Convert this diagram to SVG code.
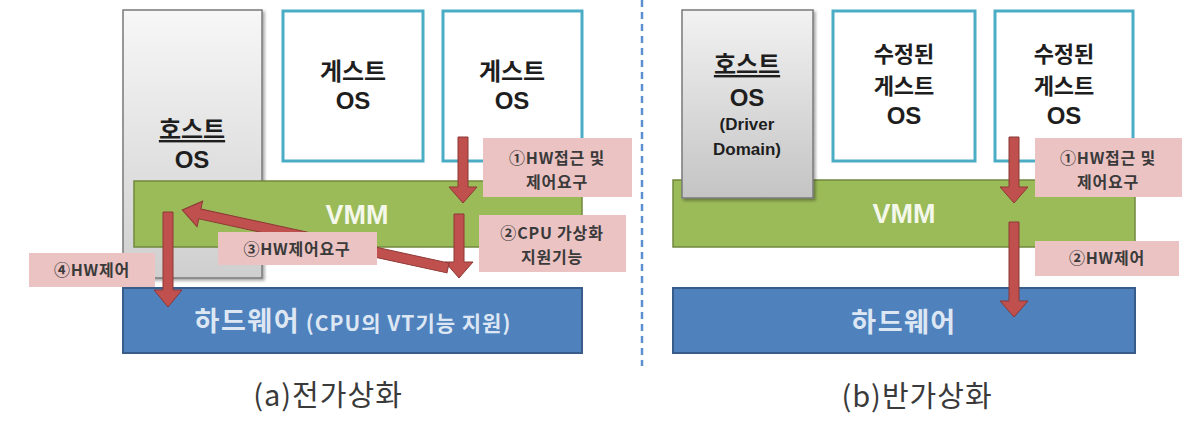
<svg xmlns="http://www.w3.org/2000/svg" width="1198" height="426" viewBox="0 0 1198 426">
<defs>
  <linearGradient id="hostGrad" x1="0" y1="0" x2="0" y2="1">
    <stop offset="0" stop-color="#f7f7f7"/>
    <stop offset="1" stop-color="#cfcfcf"/>
  </linearGradient>
  <linearGradient id="hostGrad2" x1="0" y1="0" x2="0" y2="1">
    <stop offset="0" stop-color="#f2f2f2"/>
    <stop offset="1" stop-color="#c4c4c4"/>
  </linearGradient>
  <filter id="shadow" x="-10%" y="-10%" width="130%" height="130%">
    <feDropShadow dx="2" dy="2" stdDeviation="1.5" flood-color="#000" flood-opacity="0.35"/>
  </filter>
</defs>
<style>
  .host { stroke: #7a7a7a; stroke-width: 1.5; }
  .guest { fill: #ffffff; stroke: #4bacc6; stroke-width: 3; }
  .vmm { fill: #9bbb59; stroke: #71893f; stroke-width: 1.5; }
  .hw { fill: #4f81bd; stroke: #385d8a; stroke-width: 2; }
  .t { font-family: "Noto Sans CJK KR", "Noto Sans", sans-serif; font-weight: bold; text-anchor: middle; fill: #1e1e1e; }
  .os { font-family: "Liberation Sans", "Noto Sans", sans-serif; font-weight: bold; text-anchor: middle; fill: #1e1e1e; }
  .big { font-size: 24px; }
  .k22 { font-size: 22px; }
  .mid { font-size: 17px; }
  .vt { font-family: "Liberation Sans", sans-serif; font-size: 27px; fill: #f4f8ea; }
  .hwt { fill: #dde7f4; }
  .lbl { fill: #ebc3c3; }
  .lt { font-family: "Noto Sans CJK KR", "Noto Sans", sans-serif; font-weight: bold; font-size: 16px; letter-spacing: 0.8px; text-anchor: middle; fill: #3a3a3a; }
  .cap { font-family: "Noto Sans CJK KR", "Noto Sans", sans-serif; font-weight: normal; font-size: 29px; letter-spacing: 1px; text-anchor: middle; fill: #3a3a3a; }
  .arrow { fill: #c0504d; stroke: #8c3836; stroke-width: 1; }
  .div { stroke: #5b8fd0; stroke-width: 2.5; stroke-dasharray: 7 5; fill: none; }
</style>

<rect x="0" y="0" width="1198" height="426" fill="#ffffff"/>

<!-- ===== Left panel (a) ===== -->
<g id="a-host">
  <rect class="host" x="123" y="10" width="139" height="268" fill="url(#hostGrad)" filter="url(#shadow)"/>
  <text class="t big" x="192" y="138" text-decoration="underline">호스트</text>
  <text class="os big" x="192" y="168">OS</text>
</g>
<g id="a-guest1">
  <rect class="guest" x="283" y="11" width="140" height="150"/>
  <text class="t big" x="353" y="80">게스트</text>
  <text class="os big" x="353" y="109">OS</text>
</g>
<g id="a-guest2">
  <rect class="guest" x="443" y="11" width="139" height="150"/>
  <text class="t big" x="512" y="80">게스트</text>
  <text class="os big" x="512" y="109">OS</text>
</g>
<g id="a-vmm">
  <rect class="vmm" x="134" y="181" width="448" height="66"/>
  <text class="t vt" x="357" y="224">VMM</text>
</g>
<g id="a-hw">
  <rect class="hw" x="123" y="288" width="459" height="65"/>
  <text class="t hwt" x="353" y="331"><tspan font-size="27" letter-spacing="1.5">하드웨어</tspan><tspan font-size="21" letter-spacing="1"> (CPU의 VT기능 지원)</tspan></text>
</g>
<g id="a-caption">
  <text class="cap" x="328" y="406">(a)전가상화</text>
</g>

<!-- divider -->
<g id="divider">
  <line class="div" x1="642" y1="0" x2="642" y2="366"/>
</g>

<!-- ===== Right panel (b) ===== -->
<g id="b-vmm">
  <rect class="vmm" x="673" y="180" width="462" height="67"/>
  <text class="t vt" x="904" y="223">VMM</text>
</g>
<g id="b-host">
  <rect class="host" x="682" y="10" width="131" height="188" fill="url(#hostGrad2)" stroke="#4d4d4d" filter="url(#shadow)"/>
  <text class="t big" x="747" y="73" text-decoration="underline">호스트</text>
  <text class="os big" x="747" y="106">OS</text>
  <text class="os mid" x="747" y="130">(Driver</text>
  <text class="os mid" x="747" y="155">Domain)</text>
</g>
<g id="b-guest1">
  <rect class="guest" x="833" y="11" width="142" height="150"/>
  <text class="t k22" x="904" y="62">수정된</text>
  <text class="t k22" x="904" y="94">게스트</text>
  <text class="os big" x="904" y="124">OS</text>
</g>
<g id="b-guest2">
  <rect class="guest" x="995" y="11" width="138" height="150"/>
  <text class="t k22" x="1064" y="62">수정된</text>
  <text class="t k22" x="1064" y="94">게스트</text>
  <text class="os big" x="1064" y="124">OS</text>
</g>
<g id="b-hw">
  <rect class="hw" x="673" y="288" width="462" height="65"/>
  <text class="t hwt" x="904" y="332" font-size="27" letter-spacing="1.5">하드웨어</text>
</g>
<g id="b-caption">
  <text class="cap" x="917" y="407">(b)반가상화</text>
</g>

<!-- ===== Connectors ===== -->
<g id="connectors">
  <!-- (a) ① guest -> VMM -->
  <polygon class="arrow" points="458,137 468,137 468,187 477,187 463,203 449,187 458,187"/>
  <!-- (a) ② VMM -> CPU -->
  <polygon class="arrow" points="454,214 464,214 464,262 473,262 459,278 445,262 454,262"/>
  <!-- (a) ③ CPU -> host OS (diagonal) -->
  <polygon class="arrow" transform="translate(448,268) rotate(192.3)" points="0,-5 254,-5 254,-13 272,0 254,13 254,5 0,5"/>
  <!-- (a) ④ host -> hardware -->
  <polygon class="arrow" points="163,212 173,212 173,290 182,290 168,307 154,290 163,290"/>
  <!-- (b) ① guest -> VMM -->
  <polygon class="arrow" points="1009,137 1019,137 1019,187 1028,187 1014,203 1000,187 1009,187"/>
  <!-- (b) ② VMM -> hardware -->
  <polygon class="arrow" points="1009,222 1019,222 1019,301 1028,301 1014,317 1000,301 1009,301"/>
</g>

<!-- ===== Connector labels ===== -->
<g id="a-label1">
  <rect class="lbl" x="483" y="138" width="149" height="59"/>
  <text class="lt" x="557" y="164">①HW접근 및</text>
  <text class="lt" x="557" y="188">제어요구</text>
</g>
<g id="a-label2">
  <rect class="lbl" x="479" y="215" width="147" height="57"/>
  <text class="lt" x="552" y="239">②CPU 가상화</text>
  <text class="lt" x="552" y="263">지원기능</text>
</g>
<g id="a-label3">
  <rect class="lbl" x="218" y="232" width="159" height="33"/>
  <text class="lt" x="297" y="255">③HW제어요구</text>
</g>
<g id="a-label4">
  <rect class="lbl" x="29" y="253" width="126" height="34"/>
  <text class="lt" x="92" y="276">④HW제어</text>
</g>
<g id="b-label1">
  <rect class="lbl" x="1035" y="138" width="147" height="59"/>
  <text class="lt" x="1108" y="164">①HW접근 및</text>
  <text class="lt" x="1108" y="188">제어요구</text>
</g>
<g id="b-label2">
  <rect class="lbl" x="1035" y="241" width="144" height="35"/>
  <text class="lt" x="1107" y="264">②HW제어</text>
</g>
</svg>
